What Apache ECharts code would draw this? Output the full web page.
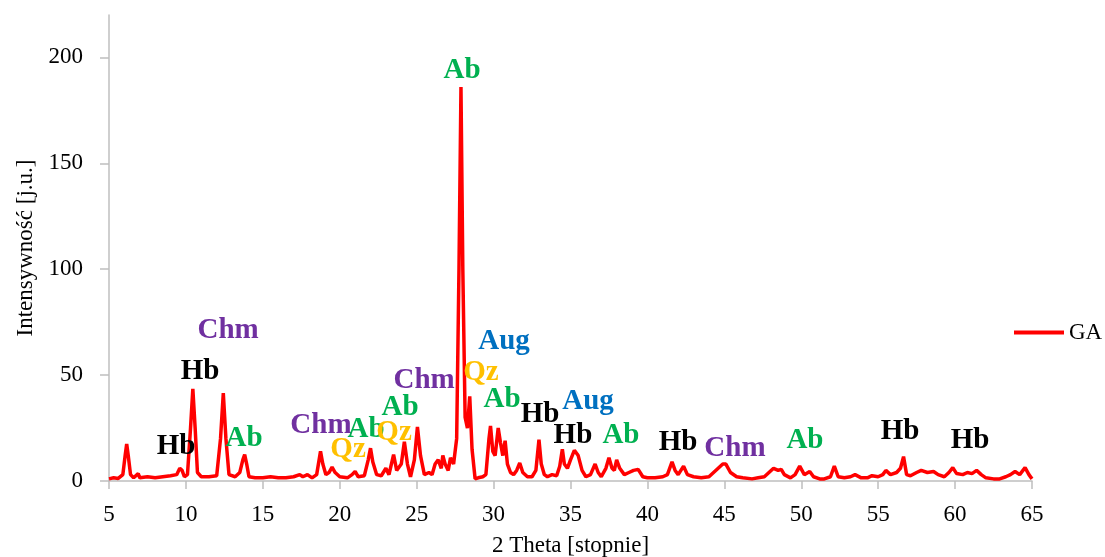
<!DOCTYPE html>
<html>
<head>
<meta charset="utf-8">
<script src="https://cdn.jsdelivr.net/npm/echarts@6/dist/echarts.min.js"></script>
<style>
  html, body { margin: 0; padding: 0; background: #fff; }
  #main { width: 1105px; height: 557px; }
</style>
</head>
<body>
<div id="main"></div>
<script>
// 2 Theta positions and intensities
const twoTheta = [
  5.0, 5.3, 5.6, 5.9, 6.05, 6.15, 6.25, 6.4, 6.6, 6.9, 7.0, 7.5, 8.0, 8.5, 9.0, 9.4, 9.6, 9.75, 9.9,
  10.1, 10.3, 10.45, 10.6, 10.75, 11.0, 11.5, 12.0, 12.25, 12.43, 12.6, 12.8, 13.2, 13.5, 13.7, 13.82,
  13.95, 14.1, 14.5, 15.0, 15.5, 16.0, 16.5, 17.0, 17.4, 17.6, 17.9, 18.2, 18.5, 18.75, 18.9, 19.1,
  19.3, 19.5, 19.7, 20.0, 20.5, 20.8, 21.0, 21.2, 21.6, 21.85, 22.0, 22.15, 22.4, 22.7, 23.0, 23.2,
  23.5, 23.7, 24.0, 24.2, 24.4, 24.6, 24.85, 25.05, 25.25, 25.5, 25.8, 26.0, 26.2, 26.4, 26.6, 26.7,
  26.85, 27.05, 27.2, 27.4, 27.6, 27.75, 27.88, 28.0, 28.15, 28.3, 28.45, 28.6, 28.8, 29.0, 29.3,
  29.5, 29.7, 29.8, 29.95, 30.1, 30.3, 30.45, 30.6, 30.75, 30.9, 31.1, 31.3, 31.5, 31.7, 31.9, 32.2,
  32.5, 32.75, 32.95, 33.1, 33.3, 33.5, 33.8, 34.1, 34.3, 34.47, 34.6, 34.8, 35.0, 35.25, 35.5, 35.75,
  36.0, 36.3, 36.6, 36.8, 37.0, 37.3, 37.5, 37.7, 37.85, 38.0, 38.2, 38.5, 38.8, 39.1, 39.4, 39.7,
  40.0, 40.5, 41.0, 41.3, 41.6, 41.8, 42.0, 42.35, 42.6, 43.0, 43.5, 44.0, 44.3, 44.6, 44.9, 45.1,
  45.4, 45.8, 46.2, 46.8, 47.2, 47.6, 47.9, 48.2, 48.5, 48.7, 48.9, 49.3, 49.6, 49.9, 50.2, 50.55,
  50.8, 51.2, 51.5, 51.9, 52.15, 52.4, 52.8, 53.2, 53.5, 53.9, 54.3, 54.6, 55.0, 55.3, 55.5, 55.8,
  56.2, 56.45, 56.65, 56.85, 57.1, 57.5, 57.8, 58.2, 58.6, 58.9, 59.3, 59.6, 59.85, 60.1, 60.5, 60.8,
  61.1, 61.4, 61.7, 62.0, 62.5, 62.9, 63.3, 63.6, 63.9, 64.2, 64.55, 64.8, 65.0
];
const intensityGA = [
  1, 1.5, 1.2, 3, 12, 17.5, 12, 3, 1.5, 3.5, 1.5, 2, 1.5, 2, 2.5, 3, 6, 5, 2,
  3, 25, 43.5, 25, 4, 2, 2, 2.5, 20, 41.5, 20, 3, 2, 4, 10, 12.5,
  8, 2, 1.5, 1.5, 2, 1.5, 1.5, 2, 3, 2, 3, 1.5, 3, 14, 8, 3,
  4, 6.5, 4, 2, 1.5, 3, 4.5, 2, 2.5, 10, 15.5, 9, 3, 2.5, 6, 3,
  12.5, 5, 8, 18.5, 8, 2, 10, 25.5, 12, 3, 4, 3, 8, 10, 6, 12,
  8, 5, 11, 8, 20, 100, 186, 100, 30, 25, 40, 15, 1, 1.5, 2,
  3, 20, 26, 14, 12, 25, 18, 12, 19, 8, 4, 3, 5, 8.5, 4, 2,
  2, 5, 19.5, 8, 3, 2, 3, 2.5, 7, 15, 8, 6, 10, 14.5, 12, 5,
  2, 3, 8, 4, 2, 6, 11, 6, 5, 10, 6, 3, 4, 5, 5.5, 2,
  1.5, 1.5, 2, 3, 9, 5, 3, 7, 3, 2, 1.5, 2, 4, 6, 8, 8,
  4, 2, 1.5, 1, 1.5, 2, 4, 6, 5, 5.5, 3, 1.5, 3, 7, 3, 4.5,
  2, 1, 1, 2, 7, 2, 1.5, 2, 3, 1.5, 1.5, 2.5, 2, 3, 5, 3,
  4, 6, 11.5, 3, 2.5, 4, 5, 4, 4.5, 3, 2, 4, 6.3, 3.5, 3, 4,
  3.5, 5, 3, 1.5, 1, 1, 2, 3, 4.5, 3, 6.3, 3, 1
];

// phase annotations (name, 2 Theta, intensity where the label sits)
const phaseNames = [
  "Hb", "Hb", "Chm", "Ab", "Chm", "Qz", "Ab", "Ab", "Qz", "Chm", "Ab", "Aug",
  "Qz", "Ab", "Hb", "Aug", "Hb", "Ab", "Hb", "Chm", "Ab", "Hb", "Hb"
];
const phaseX = [
  9.36, 10.92, 12.74, 13.78, 18.78, 20.54, 21.71, 23.92, 23.53, 25.48, 27.95, 30.68,
  29.18, 30.55, 33.02, 36.14, 35.16, 38.28, 41.99, 45.69, 50.24, 56.42, 60.97
];
const phaseY = [
  16.1, 51.8, 71.0, 19.9, 26.1, 14.7, 24.2, 34.6, 22.7, 47.4, 193.8, 65.9,
  51.2, 38.4, 31.3, 37.4, 21.3, 21.3, 18.0, 15.2, 19.0, 23.2, 19.0
];

const xTicks = [5, 10, 15, 20, 25, 30, 35, 40, 45, 50, 55, 60, 65];
const yTicks = [0, 50, 100, 150, 200];

const phaseColors = {
  Hb: "#000000",
  Chm: "#7030A0",
  Ab: "#00B050",
  Qz: "#FFC000",
  Aug: "#0070C0",
};

const serif = "'Liberation Serif', 'Times New Roman', serif";
const axisGrey = "#BFBFBF";

const myChart = echarts.init(document.getElementById("main"));

const lineData = twoTheta.map((x, i) => [x, intensityGA[i]]);
const labelData = phaseNames.map((name, i) => ({
  name: name,
  value: [phaseX[i], phaseY[i]],
  label: { color: phaseColors[name] },
}));

const options = {
  animation: false,
  grid: { left: 109, right: 73, top: 15, bottom: 76, outerBoundsMode: "none" },
  legend: {
    data: [{ name: "GA", icon: "rect" }],
    left: 1009,
    top: 316,
    itemWidth: 50,
    itemHeight: 4,
    itemGap: 4,
    textStyle: { fontFamily: serif, fontSize: 23, color: "#000" },
  },
  xAxis: {
    type: "value",
    min: 5,
    max: 65,
    interval: 5,
    name: "2 Theta [stopnie]",
    nameLocation: "middle",
    nameGap: 53,
    nameTextStyle: { fontFamily: serif, fontSize: 23, color: "#000" },
    splitLine: { show: false },
    axisLine: { lineStyle: { color: axisGrey, width: 1.5 } },
    axisTick: { show: true, length: 8, lineStyle: { color: axisGrey, width: 1.5 }, customValues: xTicks },
    axisLabel: { fontFamily: serif, fontSize: 23, color: "#000", margin: 22, customValues: xTicks },
  },
  yAxis: {
    type: "value",
    min: 0,
    max: 220,
    interval: 50,
    name: "Intensywność [j.u.]",
    nameLocation: "middle",
    nameGap: 72,
    nameTextStyle: { fontFamily: serif, fontSize: 23, color: "#000" },
    splitLine: { show: false },
    axisLine: { show: true, lineStyle: { color: axisGrey, width: 1.5 } },
    axisTick: { show: true, length: 9, lineStyle: { color: axisGrey, width: 1.5 }, customValues: yTicks },
    axisLabel: { fontFamily: serif, fontSize: 23, color: "#000", margin: 26, customValues: yTicks },
  },
  series: [
    {
      name: "GA",
      type: "line",
      data: lineData,
      symbol: "none",
      smooth: false,
      lineStyle: { color: "#FF0000", width: 3.5 },
      itemStyle: { color: "#FF0000" },
      z: 3,
    },
    {
      name: "phases",
      type: "scatter",
      data: labelData,
      symbolSize: 0,
      silent: true,
      itemStyle: { opacity: 1 },
      z: 5,
      label: {
        show: true,
        position: "inside",
        formatter: (p) => p.name,
        fontFamily: serif,
        fontWeight: "bold",
        fontSize: 29,
      },
    },
  ],
};

myChart.setOption(options);
</script>
</body>
</html>
